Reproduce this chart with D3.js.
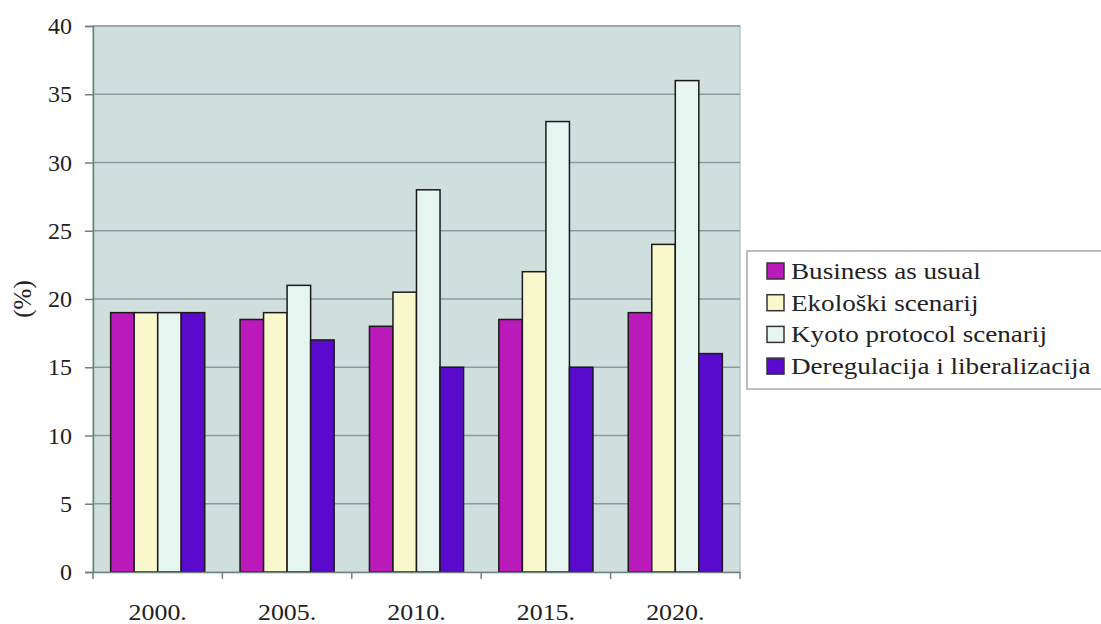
<!DOCTYPE html>
<html>
<head>
<meta charset="utf-8">
<title>Scenariji</title>
<script src="https://d3js.org/d3.v7.min.js"></script>
<style>
  body { margin: 0; background: #fff; }
</style>
</head>
<body>
<div id="graph"></div>
<script>
var years = ["2000.", "2005.", "2010.", "2015.", "2020."];
var seriesNames = ["Business as usual", "Ekološki scenarij", "Kyoto protocol scenarij", "Deregulacija i liberalizacija"];
var business = [19, 18.5, 18, 18.5, 19];
var ekoloski = [19, 19, 20.5, 22, 24];
var kyoto = [19, 21, 28, 33, 36];
var deregulacija = [19, 17, 15, 15, 16];
var yTicks = [0, 5, 10, 15, 20, 25, 30, 35, 40];
var colors = ["#bb1abb", "#f8f8cc", "#e6f5ef", "#5a0acc"];

var allSeries = [business, ekoloski, kyoto, deregulacija];
var serif = "'Liberation Serif', 'Times New Roman', Times, 'DejaVu Serif', serif";

var margin = {top: 26, right: 361, bottom: 52, left: 93};
var W = 1101, H = 624;
var width = W - margin.left - margin.right;
var height = H - margin.top - margin.bottom;

var svg = d3.select("#graph").append("svg")
    .attr("width", W)
    .attr("height", H);

var g = svg.append("g")
    .attr("transform", "translate(" + margin.left + "," + margin.top + ")");

var x0 = d3.scaleBand().domain(years).range([0, width]);
// bars take 4/5.5 of each category (gap width 150%), centred
var barW = x0.bandwidth() / 5.5;
var x1 = d3.scaleBand().domain(d3.range(4)).range([barW * 0.75, barW * 4.75]);

var y = d3.scaleLinear().domain([0, 40]).range([height, 0]);

// plot background
g.append("rect")
    .attr("x", 0).attr("y", 0)
    .attr("width", width).attr("height", height)
    .attr("fill", "#d0dede")
    .attr("stroke", "#b5c8c8")
    .attr("stroke-width", 1.5);

// gridlines
g.append("g").selectAll("line")
    .data(yTicks.filter(function(d) { return d > 0; }))
    .enter().append("line")
    .attr("x1", 0).attr("x2", width)
    .attr("y1", function(d) { return y(d); })
    .attr("y2", function(d) { return y(d); })
    .attr("stroke", "#8b9b9b")
    .attr("stroke-width", 1.5);

// bars
var groups = g.append("g").selectAll("g")
    .data(years)
    .enter().append("g")
    .attr("transform", function(d) { return "translate(" + x0(d) + ",0)"; });

groups.selectAll("rect")
    .data(function(d, i) { return allSeries.map(function(s, k) { return {k: k, v: s[i]}; }); })
    .enter().append("rect")
    .attr("x", function(d) { return x1(d.k); })
    .attr("width", x1.bandwidth())
    .attr("y", function(d) { return y(d.v); })
    .attr("height", function(d) { return height - y(d.v); })
    .attr("fill", function(d) { return colors[d.k]; })
    .attr("stroke", "#1a1a1a")
    .attr("stroke-width", 1.5);

// y axis
var yAxis = g.append("g")
    .call(d3.axisLeft(y).tickValues(yTicks).tickSize(8).tickPadding(13));
yAxis.select(".domain").attr("stroke", "#6f8080").attr("stroke-width", 1.5);
yAxis.selectAll(".tick line").attr("stroke", "#6f8080").attr("stroke-width", 1.5);
yAxis.selectAll("text")
    .style("font-family", serif).style("font-size", "24px").style("fill", "#222");

// x axis
var xAxis = g.append("g")
    .attr("transform", "translate(0," + height + ")")
    .call(d3.axisBottom(x0).tickSize(0).tickPadding(31));
xAxis.select(".domain").attr("stroke", "#6f8080").attr("stroke-width", 1.5);
xAxis.selectAll("text")
    .style("font-family", serif).style("font-size", "24px").style("fill", "#222")
    .attr("transform", "scale(1.08,1)")
    .attr("x", function() { return 0; });

// x tick marks at category boundaries
g.append("g").selectAll("line")
    .data(d3.range(years.length + 1))
    .enter().append("line")
    .attr("x1", function(i) { return i * x0.bandwidth(); })
    .attr("x2", function(i) { return i * x0.bandwidth(); })
    .attr("y1", height).attr("y2", height + 7)
    .attr("stroke", "#6f8080").attr("stroke-width", 1.5);

// y label
svg.append("text")
    .attr("transform", "translate(31," + (margin.top + y(20)) + ") rotate(-90)")
    .attr("text-anchor", "middle")
    .style("font-family", serif).style("font-size", "25px").style("fill", "#222")
    .text("(%)");

// legend
var legend = svg.append("g").attr("transform", "translate(747,251)");
legend.append("rect")
    .attr("x", 0).attr("y", 0)
    .attr("width", 360).attr("height", 138)
    .attr("fill", "#fff")
    .attr("stroke", "#a8a8a8")
    .attr("stroke-width", 1.5);

var items = legend.selectAll(".item")
    .data(seriesNames)
    .enter().append("g")
    .attr("transform", function(d, i) { return "translate(20," + (12 + i * 31.7) + ")"; });

items.append("rect")
    .attr("width", 17).attr("height", 16)
    .attr("fill", function(d, i) { return colors[i]; })
    .attr("stroke", "#333")
    .attr("stroke-width", 1.5);

items.append("text")
    .attr("transform", "translate(24,16) scale(1.13,1)")
    .style("font-family", serif).style("font-size", "24px").style("fill", "#222")
    .text(function(d) { return d; });
</script>
</body>
</html>
